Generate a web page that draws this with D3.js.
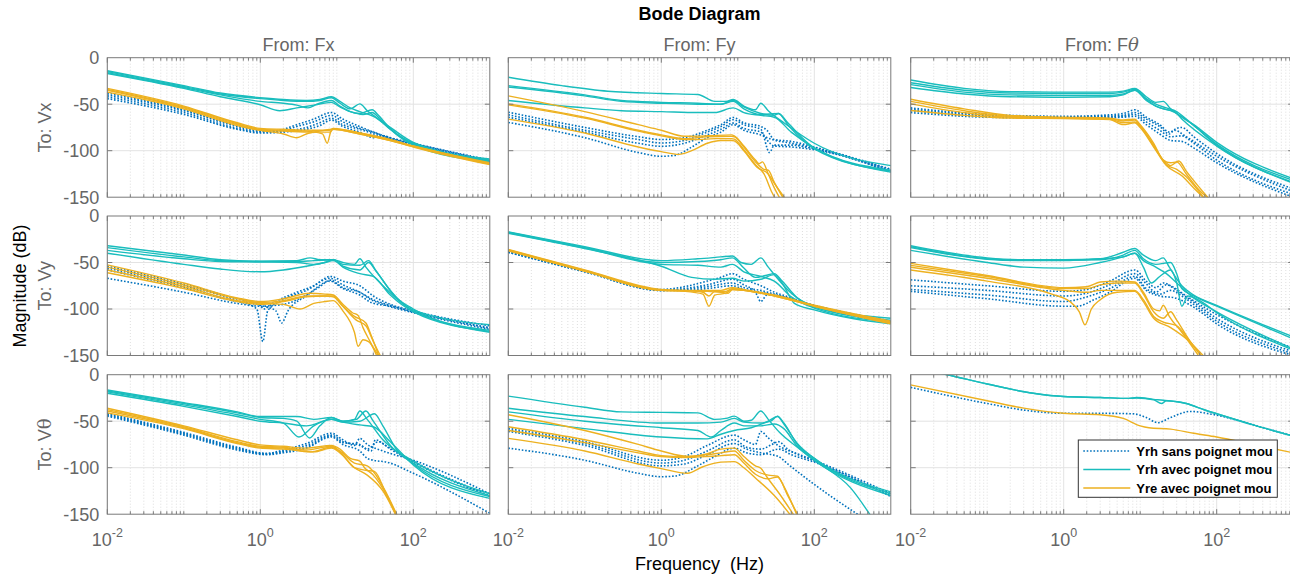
<!DOCTYPE html>
<html>
<head>
<meta charset="utf-8">
<script src="https://cdn.jsdelivr.net/npm/d3@7"></script>
<style>
  body { margin: 0; background: #fff; }
  svg { font-family: "Liberation Sans", Arial, Helvetica, sans-serif; }
</style>
</head>
<body>
<div id="chart"></div>
<script>
// ---- data : [frequency (Hz), magnitude (dB)] ----
// row 1 : To Vx
var vx_fx_sans = [
  [[0.01,-38],[0.1,-56],[0.5,-73],[1,-78],[1.5,-79],[3,-72],[5,-66],[8.5,-59],[12,-66],[20,-74],[30,-80],[50,-86],[100,-92],[1000,-110]],
  [[0.01,-40],[0.1,-57],[0.5,-74],[1,-79],[2,-78],[3,-74],[5,-69],[8.5,-62],[12,-69],[20,-76],[30,-80],[50,-87],[100,-92.5],[1000,-111]],
  [[0.01,-42],[0.1,-59],[0.5,-76],[1,-80],[2,-79],[4,-75],[6,-70],[8.5,-65],[12,-72],[20,-77],[28,-81],[40,-85],[60,-88],[100,-93],[1000,-111.5]],
  [[0.01,-44],[0.1,-61],[0.5,-77],[1,-81],[2,-80],[4,-77],[6,-73],[8.5,-67],[12,-74],[20,-80],[30,-86],[40,-84],[60,-89],[100,-93.5],[1000,-112]]
];
var vx_fx_avec = [
  [[0.01,-14],[0.1,-30],[0.3,-38],[1,-43],[2,-45],[4,-46],[6,-45],[8.5,-42],[11,-47],[15,-54],[20,-58],[30,-63],[50,-75],[100,-91],[1000,-109]],
  [[0.01,-15],[0.1,-31],[0.3,-39],[1,-44],[2,-46],[4,-47],[6,-46],[8.5,-43],[11,-49],[15,-55],[20,-49.6],[25,-57],[35,-66],[50,-77],[100,-92],[1000,-110]],
  [[0.01,-16],[0.1,-32],[0.3,-40],[1,-47],[2,-49],[3,-51],[4.2,-54],[5.5,-50],[8.5,-46],[11,-52],[15,-58],[20,-60],[29,-56],[35,-62],[50,-76],[100,-93],[1000,-111]],
  [[0.01,-17],[0.1,-33],[0.3,-42],[1,-50.6],[1.8,-57],[3,-54],[5,-51],[8.5,-48],[11,-53],[15,-58],[22,-61],[29,-59],[35,-64],[50,-77],[100,-94],[1000,-112]]
];
var vx_fx_re = [
  [[0.01,-33],[0.1,-52],[0.5,-70],[1,-76],[2,-77],[5,-78],[8,-78],[9,-76],[20,-81],[50,-88],[100,-95],[1000,-113]],
  [[0.01,-34],[0.1,-53],[0.5,-71],[1,-77],[2,-78],[4,-79],[6.5,-82],[7.5,-92],[8.3,-80],[9,-76.5],[20,-81],[50,-88.5],[100,-95],[1000,-114]],
  [[0.01,-35],[0.1,-54],[0.5,-72],[1,-78],[2,-82],[3,-86],[4,-82],[6,-79],[9,-77],[20,-82],[50,-89],[100,-95.5],[1000,-114.5]],
  [[0.01,-37],[0.1,-55],[0.5,-73],[1,-78],[2,-79],[5,-80],[8,-80],[9,-77],[20,-82],[50,-89],[100,-96],[1000,-115]]
];

var vx_fy_sans = [
  [[0.01,-58.6],[0.1,-75],[0.5,-85],[1,-88],[2,-86],[4,-78],[6,-72],[8.7,-64.3],[12,-70],[20,-74],[24,-78],[30,-88],[50,-90],[100,-96],[1000,-120]],
  [[0.01,-61.4],[0.1,-78],[0.5,-88],[1,-91.7],[2,-89],[4,-80],[6,-74],[8.7,-66.7],[12,-72],[20,-77],[26,-102],[30,-94],[50,-94],[100,-98],[1000,-121]],
  [[0.01,-64],[0.1,-80],[0.5,-92],[1,-95.3],[2,-92],[4,-83],[6,-77],[8.7,-70.3],[12,-76],[20,-80],[25,-90],[30,-95],[50,-96],[100,-99],[1000,-122]],
  [[0.01,-69.6],[0.1,-86],[0.5,-102],[1,-106],[1.5,-105],[2.5,-96],[4,-86],[6,-80],[8.7,-72],[12,-78],[20,-83],[28,-88],[50,-92],[100,-97],[1000,-123]]
];
var vx_fy_avec = [
  [[0.01,-21],[0.05,-30],[0.2,-36],[1,-38.5],[3,-39.5],[5,-47],[7,-47],[8.7,-45],[12,-52],[17,-56],[20,-49],[25,-57],[40,-70],[100,-92],[1000,-116]],
  [[0.01,-30],[0.1,-40],[0.3,-46],[1,-48],[3,-49],[6,-50],[8.7,-46],[12,-53],[20,-60],[30,-62],[34,-60],[45,-70],[100,-97],[1000,-121]],
  [[0.01,-31.5],[0.1,-41],[0.3,-47],[1,-49],[3,-50],[6,-50],[8.7,-47],[12,-55],[20,-61],[34,-60],[45,-72],[100,-98],[1000,-122]],
  [[0.01,-46],[0.1,-54],[0.3,-57],[1,-58],[3,-59],[5,-59],[8.7,-54],[12,-59],[20,-62],[30,-64],[50,-80],[100,-97],[1000,-123]]
];
var vx_fy_re = [
  [[0.01,-41],[0.1,-58],[0.5,-72],[1,-78],[2,-84.5],[4,-84],[8.3,-83],[9,-84],[12,-95],[17,-110],[19,-114],[21,-112],[25,-125],[30,-140],[36,-152]],
  [[0.01,-49.6],[0.1,-64],[0.5,-78],[1,-83],[2,-87],[4,-85],[8.3,-84.6],[9,-85],[12,-96],[17,-112],[22,-120],[25,-121],[30,-134],[40,-152]],
  [[0.01,-50.7],[0.1,-65],[0.5,-79],[1,-84],[2,-88],[3,-88],[5,-87],[8.3,-87],[9,-87.5],[12,-99],[17,-115],[22,-125],[28,-145],[31,-152]],
  [[0.01,-66],[0.1,-81],[0.5,-96],[1,-101],[1.7,-104],[2.5,-100],[4,-92],[6,-89],[8.3,-89],[9,-89.5],[12,-100],[18,-118],[25,-125],[30,-135],[42,-152]]
];

var vx_ft_sans = [
  [[0.01,-54],[0.1,-61],[1,-63],[3,-62],[6,-60],[8.5,-56],[12,-64],[18,-72],[24,-80],[30,-76],[35,-75],[50,-85],[100,-103],[1000,-141]],
  [[0.01,-55.5],[0.1,-62],[1,-64],[3,-63],[6,-62],[8.5,-59],[12,-66],[18,-74],[24,-82],[28,-78],[40,-85],[100,-106],[1000,-144]],
  [[0.01,-57],[0.1,-63],[1,-64.5],[3,-64],[6,-63],[8.5,-61],[12,-69],[18,-78],[25,-85],[35,-84],[50,-92],[100,-110],[1000,-147]],
  [[0.01,-59],[0.1,-64],[1,-65],[3,-64.5],[6,-64],[8.5,-63],[12,-72],[18,-82],[25,-89],[35,-90],[50,-97],[100,-113],[1000,-150]]
];
var vx_ft_avec = [
  [[0.01,-24],[0.05,-33],[0.2,-36.5],[1,-37],[4,-37],[6,-36],[8.5,-33],[12,-42],[16,-48],[20,-47],[25,-55],[35,-64],[50,-72],[100,-91],[1000,-130]],
  [[0.01,-27],[0.05,-35],[0.2,-38],[1,-38.5],[4,-38.5],[6,-37],[8.5,-34],[12,-44],[16,-50],[22,-54],[30,-58],[40,-66],[100,-93],[1000,-132]],
  [[0.01,-29],[0.05,-37],[0.2,-40],[1,-40.5],[4,-40.5],[6,-39],[8.5,-35],[12,-45],[16,-52],[25,-57],[30,-60],[45,-70],[100,-94],[1000,-134]],
  [[0.01,-32],[0.05,-39],[0.2,-42],[1,-42.5],[4,-42],[6,-40],[8.5,-35],[12,-46],[16,-52],[20,-55],[28,-58],[35,-66],[100,-95],[1000,-135]]
];
var vx_ft_re = [
  [[0.01,-44.6],[0.05,-55],[0.2,-62],[1,-64],[4,-65],[6,-67],[8.5,-66],[10,-72],[15,-92],[20,-110],[25,-113],[30,-112],[40,-125],[60,-143],[80,-152]],
  [[0.01,-47],[0.05,-57],[0.2,-63],[1,-64.5],[4,-65.5],[6,-68],[8.5,-67],[10,-73],[15,-94],[20,-110],[25,-116],[32,-111],[40,-122],[60,-140],[80,-152]],
  [[0.01,-49.6],[0.05,-59],[0.2,-64],[1,-65],[4,-66],[6,-70],[8.5,-69],[10,-74],[15,-95],[22,-115],[30,-120],[40,-128],[60,-145],[70,-152]],
  [[0.01,-56.8],[0.05,-62],[0.2,-65],[1,-65.5],[4,-66.5],[6,-72],[8.5,-70],[10,-75],[15,-96],[22,-116],[35,-127],[50,-140],[70,-152]]
];

// row 2 : To Vy
var vy_fx_sans = [
  [[0.01,-54],[0.1,-73],[0.5,-89],[0.8,-93],[1,-96],[1.1,-100],[1.5,-93],[3,-82],[5,-75],[8.2,-65],[12,-70],[20,-75],[30,-86],[50,-95],[100,-102],[1000,-118]],
  [[0.01,-56],[0.1,-75],[0.5,-91],[0.9,-100],[1.08,-135],[1.25,-102],[2,-90],[4,-80],[8.2,-67],[12,-74],[20,-82],[30,-90],[50,-96],[100,-103],[1000,-120]],
  [[0.01,-58],[0.1,-77],[0.5,-92],[1,-96],[1.6,-102],[1.9,-115],[2.3,-102],[4,-86],[8.2,-70],[12,-78],[20,-85],[28,-93],[50,-97],[100,-103],[1000,-121]],
  [[0.01,-67],[0.1,-82],[0.5,-94],[1,-97],[2,-95],[4,-85],[6,-76],[8.2,-69],[12,-77],[20,-82],[28,-90],[40,-95],[100,-104],[1000,-122]]
];
var vy_fx_avec = [
  [[0.01,-32],[0.1,-42],[0.3,-47],[1,-48.5],[3,-48],[4.5,-45],[6,-47],[9,-47],[12,-50],[17,-52],[20,-46],[24,-55],[40,-75],[100,-101],[1000,-117]],
  [[0.01,-34],[0.1,-44],[0.3,-48],[1,-49],[3,-49],[5,-48],[9,-47],[12,-52],[20,-53],[26,-48],[32,-58],[50,-80],[100,-102],[1000,-123]],
  [[0.01,-37],[0.1,-46],[0.3,-49],[1,-49.5],[3,-50],[5,-52],[7,-50],[9,-47],[12,-55],[20,-62],[30,-65],[50,-85],[100,-103],[1000,-124]],
  [[0.01,-40],[0.1,-52],[0.3,-57],[1,-60],[2,-58],[4,-54],[7,-50],[9,-48],[12,-54],[20,-58],[26,-50],[33,-60],[60,-88],[100,-100],[1000,-125]]
];
var vy_fx_re = [
  [[0.01,-52.5],[0.1,-72],[0.5,-88],[1,-92],[2,-89],[4.4,-83],[7,-84],[9,-85],[12,-95],[16,-104],[19,-107],[22,-120],[28,-137],[34,-152]],
  [[0.01,-55],[0.1,-74],[0.5,-89],[1,-93],[2,-91],[4,-86],[7,-86],[9,-87],[12,-97],[17,-108],[24,-115],[28,-128],[36,-152]],
  [[0.01,-58],[0.1,-76],[0.5,-91],[1,-94],[2,-95],[3.3,-100],[5,-94],[7,-92],[9,-91],[12,-102],[17,-125],[19,-140],[22,-133],[26,-135],[32,-145],[36,-152]],
  [[0.01,-61],[0.1,-78],[0.5,-92],[1,-95],[2,-92],[4,-87],[7,-86],[9,-86],[12,-97],[18,-112],[24,-118],[30,-135],[38,-152]]
];

var vy_fy_sans = [
  [[0.01,-38],[0.1,-59],[1,-79],[2,-76],[4,-70],[6,-66],[8.5,-62],[12,-68],[20,-75],[30,-82],[50,-88],[100,-97],[1000,-114]],
  [[0.01,-38.5],[0.1,-59.5],[1,-80],[2,-78],[4,-74],[8.5,-68],[12,-74],[17,-82],[20,-92],[24,-85],[35,-86],[100,-97],[1000,-115]],
  [[0.01,-39],[0.1,-60],[1,-80],[2,-79],[4,-76],[8.5,-72],[12,-77],[20,-80],[30,-84],[100,-96],[1000,-113]],
  [[0.01,-39],[0.1,-60],[1,-80],[2,-80],[4,-78],[8.5,-75],[12,-79],[20,-82],[30,-85],[100,-96.5],[1000,-114]]
];
var vy_fy_avec = [
  [[0.01,-17],[0.1,-33],[1,-48],[3,-46],[6,-44],[8.5,-43],[11,-50],[15,-52],[20,-45],[25,-55],[40,-75],[50,-83],[100,-97],[1000,-110]],
  [[0.01,-17.5],[0.1,-34],[1,-50],[3,-49],[6,-47],[8.5,-45],[12,-56],[17,-66],[23,-64],[30,-62],[38,-70],[60,-88],[100,-98],[1000,-112]],
  [[0.01,-18],[0.1,-34.5],[1,-52],[3,-53],[6,-55],[8.5,-52],[12,-60],[20,-65],[30,-70],[50,-87],[100,-99],[1000,-114]],
  [[0.01,-18.6],[0.1,-35],[1,-54],[2.5,-66],[5,-68],[8.5,-67],[12,-70],[20,-68],[30,-63],[38,-72],[55,-94],[100,-101],[1000,-116]]
];
var vy_fy_re = [
  [[0.01,-36],[0.1,-58],[1,-79],[2,-80],[4,-80],[6,-80],[8.5,-77],[12,-79],[30,-85],[100,-96],[1000,-113]],
  [[0.01,-36.5],[0.1,-58.5],[1,-79.5],[2,-80],[3.5,-82],[4.2,-86],[5,-81],[7,-81],[8.5,-78],[12,-80],[30,-85.5],[100,-96.5],[1000,-114]],
  [[0.01,-37],[0.1,-59],[1,-80],[2,-81],[3.5,-84],[4.2,-97],[5,-85],[7,-83],[8.5,-79],[12,-80],[30,-86],[100,-97],[1000,-115]],
  [[0.01,-37.5],[0.1,-59.5],[1,-80],[2,-80.5],[4,-81],[6,-82],[7.5,-83],[8.5,-79],[12,-80],[30,-86],[100,-97],[1000,-116]]
];

var vy_ft_sans = [
  [[0.01,-68.6],[0.1,-75],[1,-81],[2,-79],[4,-70],[8.5,-58],[12,-70],[16,-77],[20,-72],[25,-75],[40,-86],[100,-106],[1000,-142]],
  [[0.01,-75],[0.1,-80],[1,-86],[2,-83],[4,-74],[8.5,-62],[12,-73],[16,-82],[22,-74],[30,-80],[45,-90],[100,-110],[1000,-146]],
  [[0.01,-79],[0.1,-85],[1,-92],[2,-87],[4,-78],[8.5,-65],[12,-78],[18,-84],[25,-80],[35,-86],[50,-95],[100,-113],[1000,-148]],
  [[0.01,-81],[0.1,-89],[1,-97],[1.5,-97],[2.5,-90],[4,-82],[8.5,-67],[12,-80],[18,-86],[28,-88],[50,-98],[100,-116],[1000,-150]]
];
var vy_ft_avec = [
  [[0.01,-32],[0.1,-45],[0.3,-47],[1,-47],[3,-46],[6,-39],[8.5,-35],[11,-42],[16,-48],[20,-45],[24,-55],[35,-75],[50,-85],[100,-96],[1000,-130]],
  [[0.01,-33],[0.1,-46],[0.3,-47.5],[1,-47.5],[3,-47],[6,-42],[8.5,-37],[11,-46],[16,-52],[25,-50],[30,-62],[35,-78],[50,-86],[100,-97],[1000,-132]],
  [[0.01,-34],[0.1,-46.5],[0.3,-48],[1,-48],[3,-46],[6,-44],[8.5,-40],[11,-55],[14,-72],[18,-65],[25,-58],[30,-72],[35,-97],[42,-86],[60,-91],[100,-104],[1000,-144]],
  [[0.01,-37],[0.1,-50],[0.3,-55],[1,-56],[3,-50],[6,-44],[8.5,-40],[11,-48],[16,-55],[22,-62],[30,-72],[50,-88],[100,-103],[1000,-143]]
];
var vy_ft_re = [
  [[0.01,-51],[0.1,-64],[1,-77],[2,-76],[3,-71],[5,-70],[8.5,-71],[11,-82],[15,-100],[18,-102],[20,-96],[24,-108],[35,-125],[60,-152]],
  [[0.01,-53],[0.1,-65],[1,-78],[2,-78],[3,-74],[5,-72],[8.5,-72],[11,-84],[15,-103],[20,-110],[25,-103],[30,-112],[45,-135],[65,-152]],
  [[0.01,-55],[0.1,-67],[1,-80],[2,-82],[3,-80],[5,-80],[8.5,-80],[11,-90],[15,-108],[20,-114],[30,-118],[45,-135],[65,-152]],
  [[0.01,-58],[0.1,-70],[0.7,-84],[1.2,-92],[1.6,-103],[1.9,-117],[2.3,-100],[3,-90],[5,-82],[8.5,-81],[11,-92],[15,-110],[25,-120],[40,-132],[70,-152]]
];

// row 3 : To Vtheta
var vt_fx_sans = [
  [[0.01,-41.5],[0.1,-62],[0.5,-78],[1.2,-84.6],[2,-81],[4,-74],[8.5,-63],[12,-70],[17,-76],[20,-68.5],[25,-75],[40,-82],[100,-92],[1000,-128]],
  [[0.01,-42.5],[0.1,-63],[0.5,-79],[1.2,-85],[2,-82],[4,-76],[8.5,-65],[12,-72],[20,-76],[28,-82],[32,-70],[45,-77],[100,-93],[1000,-130]],
  [[0.01,-43.5],[0.1,-64],[0.5,-80],[1.2,-85.5],[2,-83],[4,-78],[8.5,-66],[12,-73],[20,-75],[25,-80],[35,-72],[50,-80],[100,-94],[1000,-131]],
  [[0.01,-44.5],[0.1,-65],[0.5,-81],[1.2,-86],[2,-84],[4,-79],[8.5,-67],[12,-75],[20,-82],[25,-90],[30,-92],[45,-94],[100,-106],[1000,-149]]
];
var vt_fx_avec = [
  [[0.01,-16.5],[0.1,-30],[0.5,-40],[1,-45],[3,-45],[5,-48],[8.5,-46],[12,-50],[17,-48],[20,-39],[25,-48],[40,-70],[100,-93],[1000,-128]],
  [[0.01,-17.5],[0.1,-31],[0.5,-41],[1,-46],[2,-47],[3,-50],[4.4,-68],[6,-55],[8.5,-46],[12,-50],[18,-48],[24,-39],[30,-50],[50,-76],[100,-95],[1000,-130]],
  [[0.01,-18.5],[0.1,-32.5],[0.5,-43],[1,-48],[2,-52],[3.2,-67],[5,-55],[8.5,-48],[12,-51],[20,-50],[31,-42],[40,-55],[60,-80],[100,-96],[1000,-131]],
  [[0.01,-20],[0.1,-34],[0.5,-45],[1,-50],[2,-52],[4,-55],[8.5,-48],[12,-51],[20,-54],[30,-56],[50,-72],[100,-97],[1000,-133]]
];
var vt_fx_re = [
  [[0.01,-36],[0.1,-55],[0.5,-70],[1,-75.5],[2,-77],[4,-79],[8.5,-76],[11,-80],[15,-90],[20,-93],[23,-100],[30,-108],[45,-130],[60,-152]],
  [[0.01,-37.5],[0.1,-56],[0.5,-72],[1,-77],[2,-78],[4,-81],[8.5,-77],[11,-82],[17,-95],[25,-98],[30,-104],[45,-128],[62,-152]],
  [[0.01,-39],[0.1,-57],[0.5,-73],[1,-78],[2,-79],[4.5,-83],[8.5,-78],[11,-83],[17,-100],[25,-103],[31,-104],[45,-130],[62,-152]],
  [[0.01,-41],[0.1,-58],[0.5,-74],[1,-79],[2,-80],[5,-83],[8.5,-79],[11,-84],[17,-100],[25,-108],[40,-125],[60,-152]]
];

var vt_fy_sans = [
  [[0.01,-57.7],[0.1,-72],[1,-92],[2,-88],[4,-76],[9,-65],[12,-70],[17,-75],[20,-61],[25,-68],[35,-77],[60,-85],[100,-92],[1000,-128]],
  [[0.01,-59.5],[0.1,-74],[1,-95],[2,-92],[4,-82],[9,-70],[13,-78],[20,-80],[28,-75],[34,-72],[45,-80],[100,-93],[1000,-130]],
  [[0.01,-61],[0.1,-76],[1,-98],[2,-96],[4,-86],[9,-74],[13,-80],[20,-84],[34,-88],[45,-96],[100,-118],[400,-152]],
  [[0.01,-79],[0.1,-92],[0.5,-106],[1,-109.7],[1.5,-109],[3,-98],[5,-88],[9,-79],[13,-84],[20,-86],[34,-80],[50,-86],[100,-94],[1000,-131]]
];
var vt_fy_avec = [
  [[0.01,-23],[0.1,-35],[0.3,-40],[1,-40.5],[3,-41],[5,-48],[7,-47],[9,-44.5],[12,-50],[15,-49],[20,-39],[25,-48],[35,-62],[60,-78],[100,-92],[300,-122],[550,-152]],
  [[0.01,-36],[0.1,-45],[1,-52],[3,-52],[6,-51],[9,-47],[12,-51],[20,-52],[27,-50],[33,-44.5],[40,-52],[60,-75],[100,-90],[1000,-126]],
  [[0.01,-40],[0.1,-50],[1,-57],[3,-60],[4.5,-67],[6,-60],[9,-52],[12,-55],[20,-55],[30,-53],[40,-58],[60,-77],[100,-92],[1000,-130]],
  [[0.01,-48],[0.1,-58],[1,-67],[4,-69],[6,-64],[9,-60],[15,-57],[25,-50],[33,-45],[40,-53],[60,-74],[100,-90],[1000,-128]]
];
var vt_fy_re = [
  [[0.01,-43],[0.1,-60],[0.5,-75],[1,-82],[2.3,-88],[4,-85],[6,-80],[9,-79],[12,-88],[17,-98],[20,-100.7],[24,-110],[35,-128],[55,-152]],
  [[0.01,-56],[0.1,-70],[0.5,-82],[1,-87],[2,-88],[4,-86],[6,-84],[9,-82],[12,-92],[17,-103],[25,-108],[33,-109],[40,-120],[60,-152]],
  [[0.01,-60],[0.1,-73],[0.5,-84],[1,-88],[2,-89],[4,-88],[6,-87],[9,-86],[12,-95],[17,-107],[25,-112],[33,-110],[45,-130],[62,-152]],
  [[0.01,-68.5],[0.1,-82],[0.5,-96],[1,-101],[2.2,-106],[3.5,-99],[6,-94],[9,-93.5],[12,-100],[17,-111],[30,-130],[50,-152]]
];

var vt_ft_sans = [
  [[0.01,-13.6],[0.1,-31],[0.3,-38],[1,-41.5],[3,-41.5],[8,-42],[12,-46],[17,-51.6],[25,-46],[45,-39.5],[80,-42],[120,-45],[300,-54],[1000,-66]]
];
var vt_ft_avec = [
  [[0.01,8],[0.03,0],[0.1,-10],[0.4,-20],[1,-23.5],[3,-24.5],[7,-25.5],[9,-24.5],[15,-26.5],[20,-27.5],[40,-31],[70,-38],[100,-42],[300,-54],[1000,-66]],
  [[0.01,8],[0.03,0],[0.1,-10],[0.4,-20],[1,-23.5],[3,-24.5],[7,-25.5],[9,-25],[15,-27],[19,-31],[22,-28],[40,-31],[70,-38],[100,-42],[300,-54],[1000,-66]]
];
var vt_ft_re = [
  [[0.01,-11],[0.1,-28],[0.3,-36],[1,-41.5],[3,-43],[6,-47],[10,-55],[13,-57],[25,-58.5],[50,-63],[100,-67],[300,-75],[1000,-84]]
];

var colTitles = ["Fx", "Fy", "F\u03b8"];
var rowTitles = ["Vx", "Vy", "V\u03b8"];
var yTicks = [0, -50, -100, -150];
var xTickExps = [-2, 0, 2];
var legendLabels = ["Yrh sans poignet mou", "Yrh avec poignet mou", "Yre avec poignet mou"];

var panels = [
  [vx_fx_sans, vx_fx_avec, vx_fx_re], [vx_fy_sans, vx_fy_avec, vx_fy_re], [vx_ft_sans, vx_ft_avec, vx_ft_re],
  [vy_fx_sans, vy_fx_avec, vy_fx_re], [vy_fy_sans, vy_fy_avec, vy_fy_re], [vy_ft_sans, vy_ft_avec, vy_ft_re],
  [vt_fx_sans, vt_fx_avec, vt_fx_re], [vt_fy_sans, vt_fy_avec, vt_fy_re], [vt_ft_sans, vt_ft_avec, vt_ft_re]
];

// ---- layout ----
var width = 1290, height = 582;
var colX = [107.3, 508.3, 910.7], rowY = [57.7, 216, 374.7];
var pw = 382.5, ph = 139.5;
var colors = ["#0072bd", "#19bdbd", "#edb120"];
var gray = "#666";

var svg = d3.select("#chart").append("svg")
  .attr("width", width).attr("height", height);

var x = d3.scaleLog().domain([1e-2, 1e3]).range([0, pw]);
var y = d3.scaleLinear().domain([0, -150]).range([0, ph]);
var line = d3.line()
  .x(function(d) { return x(d[0]); })
  .y(function(d) { return y(d[1]); })
  .curve(d3.curveMonotoneX);

var minorX = [];
for (var e = -2; e < 3; e++) {
  for (var k = 1; k < 10; k++) {
    var v = k * Math.pow(10, e);
    if (!(k == 1 && xTickExps.indexOf(e) >= 0)) minorX.push(v);
  }
}
var majorX = xTickExps.map(function(p) { return Math.pow(10, p); });

svg.append("text")
  .attr("x", colX[1] + pw / 2).attr("y", 20)
  .attr("text-anchor", "middle")
  .attr("font-size", 18).attr("font-weight", "bold")
  .text("Bode Diagram");

panels.forEach(function(series, i) {
  var r = Math.floor(i / 3), c = i % 3;
  var g = svg.append("g").attr("transform", "translate(" + colX[c] + "," + rowY[r] + ")");

  g.append("clipPath").attr("id", "clip" + i)
    .append("rect").attr("width", pw).attr("height", ph);

  // grid
  g.selectAll(".minor").data(minorX).enter().append("line")
    .attr("x1", function(d) { return x(d); }).attr("x2", function(d) { return x(d); })
    .attr("y1", 0).attr("y2", ph)
    .attr("stroke", "#d6d6d6").attr("stroke-width", 0.8).attr("stroke-dasharray", "1,2");
  g.selectAll(".major").data(majorX).enter().append("line")
    .attr("x1", function(d) { return x(d); }).attr("x2", function(d) { return x(d); })
    .attr("y1", 0).attr("y2", ph)
    .attr("stroke", "#e3e3e3").attr("stroke-width", 1);
  g.selectAll(".hgrid").data([-50, -100]).enter().append("line")
    .attr("x1", 0).attr("x2", pw)
    .attr("y1", function(d) { return y(d); }).attr("y2", function(d) { return y(d); })
    .attr("stroke", "#e3e3e3").attr("stroke-width", 1);

  // curves
  var plot = g.append("g").attr("clip-path", "url(#clip" + i + ")");
  series.forEach(function(set, s) {
    plot.selectAll(".s" + s).data(set).enter().append("path")
      .attr("d", line)
      .attr("fill", "none")
      .attr("stroke", colors[s])
      .attr("stroke-width", s == 0 ? 1.6 : 1.4)
      .attr("stroke-dasharray", s == 0 ? "1.6,1.8" : null);
  });

  // box and ticks
  g.append("rect").attr("width", pw).attr("height", ph)
    .attr("fill", "none").attr("stroke", "#7a7a7a").attr("stroke-width", 1);
  var ticks = minorX.map(function(d) { return [d, 3]; }).concat(majorX.map(function(d) { return [d, 5]; }));
  ticks.forEach(function(t) {
    g.append("line").attr("x1", x(t[0])).attr("x2", x(t[0])).attr("y1", 0).attr("y2", t[1])
      .attr("stroke", "#7a7a7a");
    g.append("line").attr("x1", x(t[0])).attr("x2", x(t[0])).attr("y1", ph).attr("y2", ph - t[1])
      .attr("stroke", "#7a7a7a");
  });
  [-50, -100].forEach(function(t) {
    g.append("line").attr("x1", 0).attr("x2", 5).attr("y1", y(t)).attr("y2", y(t)).attr("stroke", "#7a7a7a");
    g.append("line").attr("x1", pw).attr("x2", pw - 5).attr("y1", y(t)).attr("y2", y(t)).attr("stroke", "#7a7a7a");
  });

  if (c == 0) {
    g.selectAll(".ylab").data(yTicks).enter().append("text")
      .attr("x", -8).attr("y", function(d) { return y(d); })
      .attr("dy", "0.36em")
      .attr("text-anchor", "end").attr("font-size", 18).attr("fill", gray)
      .text(function(d) { return d; });
    var rt = svg.append("text")
      .attr("transform", "translate(51," + (rowY[r] + ph / 2) + ") rotate(-90)")
      .attr("text-anchor", "middle").attr("font-size", 18).attr("fill", gray);
    rt.append("tspan").text("To: " + rowTitles[r].charAt(0));
    rt.append("tspan").attr("font-style", rowTitles[r].length > 2 && r == 2 ? "italic" : null)
      .attr("font-family", r == 2 ? "DejaVu Serif, serif" : null)
      .text(rowTitles[r].slice(1));
  }
  if (r == 0) {
    var ct = svg.append("text")
      .attr("x", colX[c] + pw / 2).attr("y", 51)
      .attr("text-anchor", "middle").attr("font-size", 18).attr("fill", gray);
    ct.append("tspan").text("From: " + colTitles[c].charAt(0));
    ct.append("tspan").attr("font-style", c == 2 ? "italic" : null)
      .attr("font-family", c == 2 ? "DejaVu Serif, serif" : null)
      .text(colTitles[c].slice(1));
  }
  if (r == 2) {
    xTickExps.forEach(function(p) {
      var t = svg.append("text")
        .attr("x", colX[c] + x(Math.pow(10, p))).attr("y", 546)
        .attr("text-anchor", "middle").attr("font-size", 18).attr("fill", gray);
      t.append("tspan").text("10");
      t.append("tspan").attr("dy", -9).attr("font-size", 12.5).text(p);
    });
  }

  // legend in the last panel
  if (i == 8) {
    var lg = g.append("g").attr("transform", "translate(" + (1078.3 - colX[2]) + "," + (440 - rowY[2]) + ")");
    lg.append("rect").attr("width", 199).attr("height", 57.3)
      .attr("fill", "#fff").attr("stroke", "#333").attr("stroke-width", 1);
    legendLabels.forEach(function(lab, j) {
      var yy = 11 + j * 18.5;
      lg.append("line").attr("x1", 5).attr("x2", 52).attr("y1", yy).attr("y2", yy)
        .attr("stroke", colors[j]).attr("stroke-width", j == 0 ? 1.6 : 1.4)
        .attr("stroke-dasharray", j == 0 ? "1.6,1.8" : null);
      lg.append("text").attr("x", 58).attr("y", yy).attr("dy", "0.36em")
        .attr("font-size", 13).attr("font-weight", "bold").text(lab);
    });
  }
});

svg.append("text")
  .attr("transform", "translate(26," + ((rowY[0] + rowY[2] + ph) / 2) + ") rotate(-90)")
  .attr("text-anchor", "middle").attr("font-size", 18)
  .text("Magnitude (dB)");

svg.append("text")
  .attr("x", colX[1] + pw / 2).attr("y", 570)
  .attr("text-anchor", "middle").attr("font-size", 18)
  .attr("xml:space", "preserve")
  .text("Frequency  (Hz)");
</script>
</body>
</html>
